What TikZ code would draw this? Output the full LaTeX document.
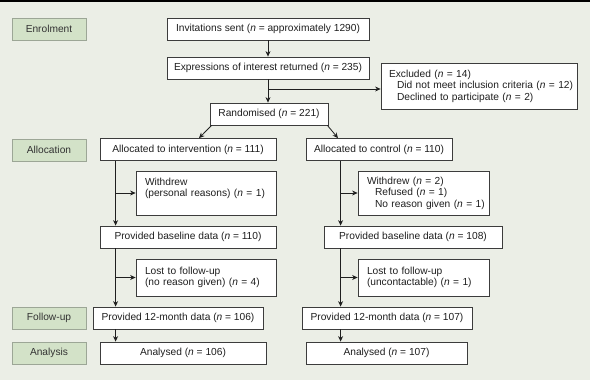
\documentclass[tikz,border=0pt]{standalone}
\usepackage{fontspec}
\setmainfont{Liberation Sans}
\usetikzlibrary{arrows.meta,positioning}
\definecolor{bgcol}{HTML}{EBEEE6}
\definecolor{stagefill}{HTML}{D3E2C8}
\definecolor{stageline}{HTML}{9CA696}
\definecolor{boxline}{HTML}{3C3C3C}
\newcommand{\boxfont}{\fontsize{10.2}{11.5}\selectfont}
\newcommand{\nn}{\textit{n}}
\newcommand{\ind}[1]{\mbox{\hspace*{8pt}#1}}

\begin{document}
\begin{tikzpicture}[x=1pt,y=-1pt,
  stage/.style={draw=stageline,fill=stagefill,minimum width=74pt,minimum height=22pt,inner sep=0pt,font=\boxfont,text=black!80},
  box/.style={draw=boxline,fill=white,line width=0.8pt,minimum width=#1,minimum height=22pt,inner sep=0pt,font=\boxfont,text=black!88},
  sidebox/.style={draw=boxline,fill=white,line width=0.8pt,text width=#1,inner xsep=9pt,inner ysep=0pt,align=left,font=\boxfont,text=black!88},
  arr/.style={-{Stealth[length=5.5pt,width=5pt]},line width=0.8pt,draw=black!88}]
\useasboundingbox (0,0) rectangle (590,380);
\fill[bgcol] (0,0) rectangle (590,380);
\draw[line width=1.5pt] (0,0.75) -- (590,0.75);

\node[stage] (enr) at (49,29) {Enrolment};
\node[stage] (alc) at (49,150) {Allocation};
\node[stage] (fol) at (49,318) {Follow-up};
\node[stage] (ana) at (49,353) {Analysis};

\node[box=202pt] (inv) at (268,29) {Invitations sent (\nn{} = approximately 1290)};
\node[box=202pt] (expr) at (268,68) {Expressions of interest returned (\nn{} = 235)};
\node[sidebox=180pt,inner xsep=8pt,minimum height=46pt] (exc) at (479,86) {Excluded (\nn{} = 14)\\
  \ind{Did not meet inclusion criteria (\nn{} = 12)}\\
  \ind{Declined to participate (\nn{} = 2)}};
\node[box=118pt] (rand) at (269,114) {Randomised (\nn{} = 221)};

\node[box=176pt] (al1) at (188,149.5) {Allocated to intervention (\nn{} = 111)};
\node[box=146pt] (al2) at (379,149.5) {Allocated to control (\nn{} = 110)};
\node[sidebox=122pt,minimum height=44pt] (wd1) at (206,193) {Withdrew\\\mbox{(personal reasons) (\nn{} = 1)}\\\mbox{}};
\node[sidebox=113pt,minimum height=44pt] (wd2) at (423.5,193) {Withdrew (\nn{} = 2)\\
  \ind{Refused (\nn{} = 1)}\\
  \ind{No reason given (\nn{} = 1)}};
\node[box=176pt] (base1) at (188,237) {Provided baseline data (\nn{} = 110)};
\node[box=178pt] (base2) at (413,237) {Provided baseline data (\nn{} = 108)};
\node[sidebox=122pt,minimum height=37pt] (lost1) at (206,277.5) {Lost to follow-up\\\mbox{(no reason given) (\nn{} = 4)}};
\node[sidebox=113pt,minimum height=37pt] (lost2) at (423.5,277.5) {Lost to follow-up\\\mbox{(uncontactable) (\nn{} = 1)}};
\node[box=170pt] (fu1) at (178,318) {Provided 12-month data (\nn{} = 106)};
\node[box=170pt] (fu2) at (387,318) {Provided 12-month data (\nn{} = 107)};
\node[box=166pt] (an1) at (183,353) {Analysed (\nn{} = 106)};
\node[box=161pt] (an2) at (386.5,353) {Analysed (\nn{} = 107)};

\draw[arr] (inv.south) -- (expr.north);
\draw[arr] (expr.south) -- (expr.south |- rand.north);
\coordinate (split) at (268,89);
\draw[arr] (split) -- (split -| exc.west);
\draw[arr] ([xshift=2pt]rand.south west) -- ([xshift=11pt]al1.north);
\draw[arr] ([xshift=-1pt]rand.south east) -- ([xshift=-41pt]al2.north);

\foreach \a/\d in {1/16,2/35} {
  \coordinate (s\a) at ([xshift=\d pt]al\a.south west);
  \draw[arr] (s\a) -- (s\a |- base\a.north);
  \draw[arr] (s\a |- wd\a.west) -- (wd\a.west);
  \draw[arr] (s\a |- base\a.south) -- (s\a |- fu\a.north);
  \draw[arr] (s\a |- lost\a.west) -- (lost\a.west);
  \draw[arr] (s\a |- fu\a.south) -- (s\a |- an\a.north);
}
\end{tikzpicture}
\end{document}
